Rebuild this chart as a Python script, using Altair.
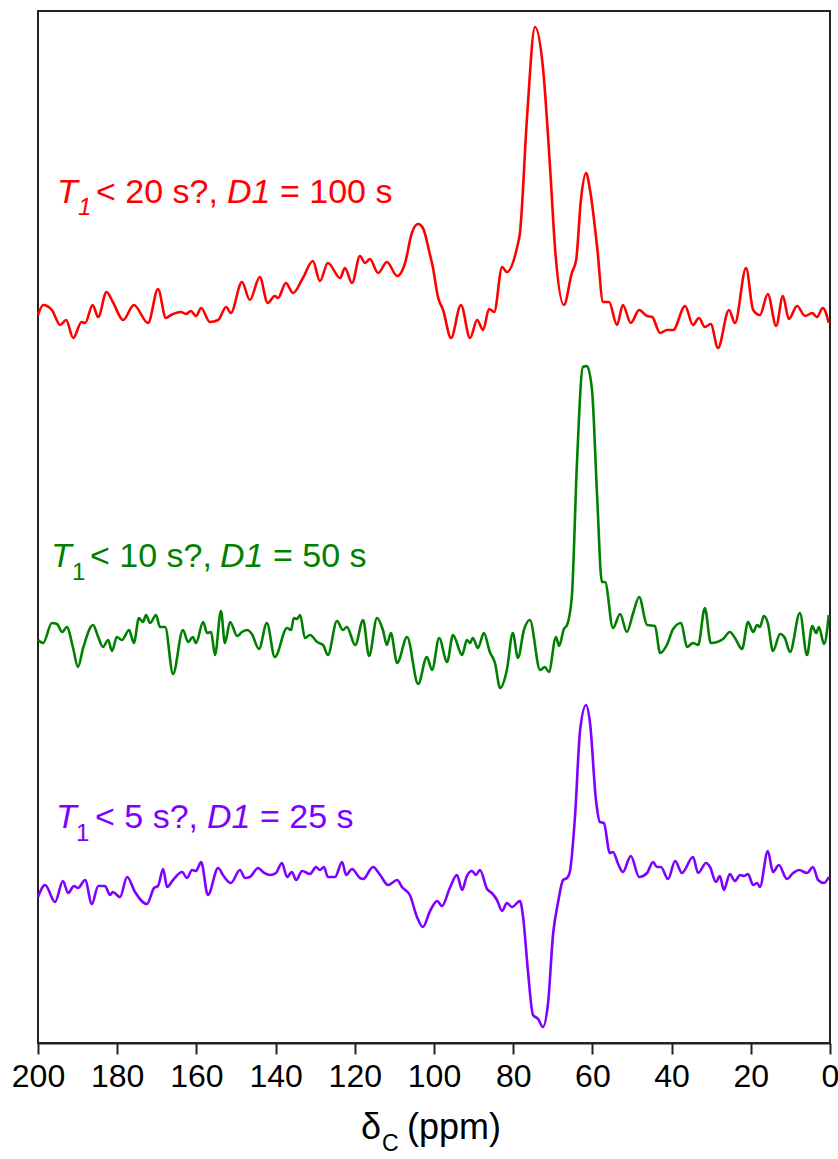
import altair as alt
import pandas as pd

# ---------------- data ----------------
red_ppm = [200.0,198.7,196.5,194.4,192.9,191.1,189.0,188.1,186.2,184.8,
           182.7,181.1,178.5,175.8,172.2,169.7,167.7,166.4,163.9,162.6,
           161.4,160.1,158.8,156.6,154.5,152.5,151.3,148.5,146.5,144.0,
           142.0,140.2,139.4,137.4,135.6,133.1,130.6,128.8,126.8,123.7,
           122.5,120.7,118.7,117.4,116.2,114.1,111.9,109.3,107.3,105.6,
           104.0,102.8,101.0,100.3,99.0,97.7,95.7,93.2,90.9,89.1,
           87.6,86.1,84.8,82.8,81.6,79.0,78.3,76.5,74.5,72.5,
           70.7,69.4,67.2,65.2,64.1,62.9,61.6,60.6,58.8,57.3,
           55.8,53.8,52.3,50.3,48.2,46.2,44.9,42.9,41.2,39.6,
           36.6,34.6,33.1,31.6,30.1,28.3,25.5,24.0,21.2,19.4,
           17.7,15.7,13.6,11.9,10.4,8.3,6.3,4.5,3.3,1.8,0.3]
red_int = [0,10,5,-10,-5,-23,-7,-8,10,-2,
           23,13,-5,10,-8,26,-3,0,3,1,
           4,-1,7,-7,-5,8,2,33,15,38,
           12,19,17,32,22,37,54,34,52,37,
           47,32,59,52,56,42,53,39,52,82,
           91,87,60,48,18,5,-23,10,-23,-5,
           -15,6,3,48,43,68,82,198,288,248,
           148,65,10,42,55,115,142,125,68,13,
           13,-10,10,-8,5,-1,-2,-18,-15,-15,
           9,-10,-3,-12,-9,-33,5,-8,47,5,
           0,21,-11,19,-4,9,-1,2,-2,7,-8]

green_ppm = [200.0,198.7,196.5,195.2,193.9,192.7,191.2,189.9,188.6,186.1,
             184.8,183.6,182.3,181.3,180.1,178.8,177.0,175.8,174.5,173.5,
             172.7,171.7,170.2,169.2,167.9,165.9,163.4,162.1,160.9,160.1,
             158.3,157.3,156.3,155.3,153.8,152.8,151.5,149.7,148.5,147.2,
             146.0,144.2,142.2,140.2,137.1,136.1,135.4,134.6,133.8,132.6,
             131.3,129.5,128.0,126.8,124.5,123.0,122.0,119.9,117.9,116.4,
             114.4,112.9,111.9,110.9,109.3,106.8,104.0,101.8,100.5,98.7,
             96.7,95.2,92.9,91.7,90.9,90.2,88.9,87.4,85.9,84.6,
             83.3,81.6,80.1,78.8,77.3,75.8,73.2,72.0,71.0,69.2,
             68.4,67.2,66.4,65.2,63.9,62.4,61.4,60.1,58.8,57.6,
             56.8,54.8,53.0,51.3,49.7,48.2,46.2,44.2,42.9,41.2,
             39.6,37.6,36.1,34.6,33.3,31.6,30.1,28.5,27.0,25.3,
             24.0,22.2,20.7,19.4,18.4,17.7,16.7,15.7,14.4,12.6,
             11.4,10.1,7.6,5.8,4.5,3.5,2.8,1.5,0.3]
green_int = [-5,-8,12,11,3,8,-12,-32,-13,10,
             -2,-12,-5,-16,-2,-5,5,-8,17,13,
             20,12,20,8,8,-39,5,-7,-2,-8,
             13,2,3,-20,24,-8,13,-1,3,5,
             1,-14,12,-22,7,5,17,16,20,-3,
             0,-7,-10,-20,14,5,8,-10,15,-21,
             17,5,-10,2,-28,-2,-49,-22,-35,-3,
             -27,0,-20,-5,-8,-3,-13,2,-17,-28,
             -53,-35,2,-23,5,15,-35,-32,-37,-2,
             -11,6,10,38,172,268,269,245,138,53,
             53,7,21,3,22,38,10,9,-18,-10,
             6,12,-12,-8,-10,27,-8,-7,-4,3,
             -3,-14,13,3,10,8,19,12,-16,1,
             -3,-17,22,-20,9,2,8,-9,20]

purple_ppm = [200.0,198.2,195.7,193.7,192.4,190.9,189.9,188.1,186.4,184.8,
              183.1,181.8,181.1,179.3,177.5,175.5,172.5,170.7,169.7,168.4,
              167.4,165.9,163.6,162.4,161.1,160.1,158.8,157.1,154.5,153.3,
              151.3,149.0,147.7,146.5,144.4,143.2,141.4,139.9,138.4,137.1,
              135.9,134.8,133.3,131.3,129.8,128.8,127.8,126.8,125.0,123.2,
              122.2,120.7,118.7,117.9,115.4,113.6,111.6,109.3,108.1,106.1,
              104.3,102.8,101.0,99.2,98.0,96.0,94.2,92.9,91.7,90.4,
              89.4,88.4,86.6,85.4,84.1,82.8,81.6,80.3,78.3,77.5,
              76.3,75.0,73.7,72.5,71.2,69.9,68.7,67.4,66.4,65.7,
              64.4,63.1,61.6,60.6,59.1,58.1,57.1,55.6,54.8,53.5,
              52.3,50.3,48.2,46.2,44.7,43.7,42.7,40.9,39.1,37.4,
              34.6,33.3,31.3,30.3,28.8,27.8,26.8,25.3,24.0,22.7,
              21.7,20.7,19.4,18.4,17.7,15.7,14.4,12.9,10.9,9.3,
              7.8,5.8,4.3,3.0,1.5,0.3]
purple_int = [-17,-5,-22,-1,-13,-6,-8,0,-24,-6,
              -6,-15,-12,-17,3,-12,-24,-8,-6,11,
              -7,0,8,2,10,9,18,-15,12,5,
              -3,10,2,3,12,8,5,7,17,3,
              8,0,9,6,13,10,13,3,3,18,
              5,11,2,1,13,5,-5,0,-7,-15,
              -37,-47,-31,-21,-26,-8,5,-10,4,9,
              5,10,-9,-13,-20,-31,-23,-27,-21,-37,
              -90,-135,-139,-147,-123,-53,-23,0,2,8,
              63,150,175,157,80,58,57,27,28,16,
              8,24,3,7,18,13,13,1,19,7,
              23,7,17,13,-2,4,-10,6,-1,5,
              4,6,-5,-3,-7,29,8,15,1,7,
              10,7,13,0,-3,3]

series_names = ["red", "green", "purple"]
series_offsets = [728, 408, 163]
series_colors = ["#ff0000", "#008000", "#8000ff"]
x_ticks = [200, 180, 160, 140, 120, 100, 80, 60, 40, 20, 0]

# ---------------- build table ----------------
frames = []
for name, off, ppm, inten in zip(series_names, series_offsets,
                                  [red_ppm, green_ppm, purple_ppm],
                                  [red_int, green_int, purple_int]):
    frames.append(pd.DataFrame({"ppm": ppm,
                                "signal": [off + v for v in inten],
                                "series": name}))
df = pd.concat(frames, ignore_index=True)

FONT = "Liberation Sans"
LEFT, TOP = 38, 11

lines = alt.Chart(df).mark_line(strokeWidth=2.6, interpolate="monotone").encode(
    x=alt.X("ppm:Q",
            scale=alt.Scale(domain=[200, 0], nice=False, zero=False),
            axis=alt.Axis(values=x_ticks, title=None, grid=False, format="d",
                          tickSize=11, tickWidth=2, tickColor="#222",
                          domainColor="#222", domainWidth=2,
                          labelFont=FONT, labelFontSize=32, labelColor="black",
                          labelPadding=32, labelBaseline="alphabetic",
                          labelFlush=False, labelOverlap=False, labelBound=False)),
    y=alt.Y("signal:Q", scale=alt.Scale(domain=[0, 1032], nice=False, zero=False),
            axis=None),
    color=alt.Color("series:N",
                    scale=alt.Scale(domain=series_names, range=series_colors),
                    legend=None),
)


def seg(text, px, py, size, italic, color):
    return alt.Chart(pd.DataFrame({"t": [text]})).mark_text(
        align="left", baseline="alphabetic", font=FONT, fontSize=size,
        fontStyle="italic" if italic else "normal", color=color
    ).encode(x=alt.value(px - LEFT), y=alt.value(py - TOP), text="t:N")


texts = [
    # red label
    seg("T", 57, 203, 34, True, "#ff0000"),
    seg("1", 78, 215, 24, True, "#ff0000"),
    seg("< 20 s?,", 96, 203, 34, False, "#ff0000"),
    seg("D1", 227, 203, 34, True, "#ff0000"),
    seg("= 100 s", 280, 203, 34, False, "#ff0000"),
    # green label
    seg("T", 51, 567, 34, True, "#008000"),
    seg("1", 72, 580, 24, False, "#008000"),
    seg("< 10 s?,", 90, 567, 34, False, "#008000"),
    seg("D1", 220, 567, 34, True, "#008000"),
    seg("= 50 s", 273, 567, 34, False, "#008000"),
    # purple label
    seg("T", 56, 828, 34, True, "#8000ff"),
    seg("1", 76, 841, 24, False, "#8000ff"),
    seg("< 5 s?,", 95, 828, 34, False, "#8000ff"),
    seg("D1", 207, 828, 34, True, "#8000ff"),
    seg("= 25 s", 260, 828, 34, False, "#8000ff"),
    # axis title
    seg("\u03b4", 361, 1139, 36, False, "black"),
    seg("C", 382, 1151, 23, False, "black"),
    seg("(ppm)", 407, 1139, 36, False, "black"),
]

chart = alt.layer(lines, *texts).properties(
    width=792, height=1032,
    padding={"left": LEFT, "top": TOP, "right": 8, "bottom": 116},
    autosize=alt.AutoSizeParams(type="none"),
    background="white",
).configure_view(stroke="#222", strokeWidth=2)

chart.save("out.html", embed_options={"renderer": "svg", "actions": False})
